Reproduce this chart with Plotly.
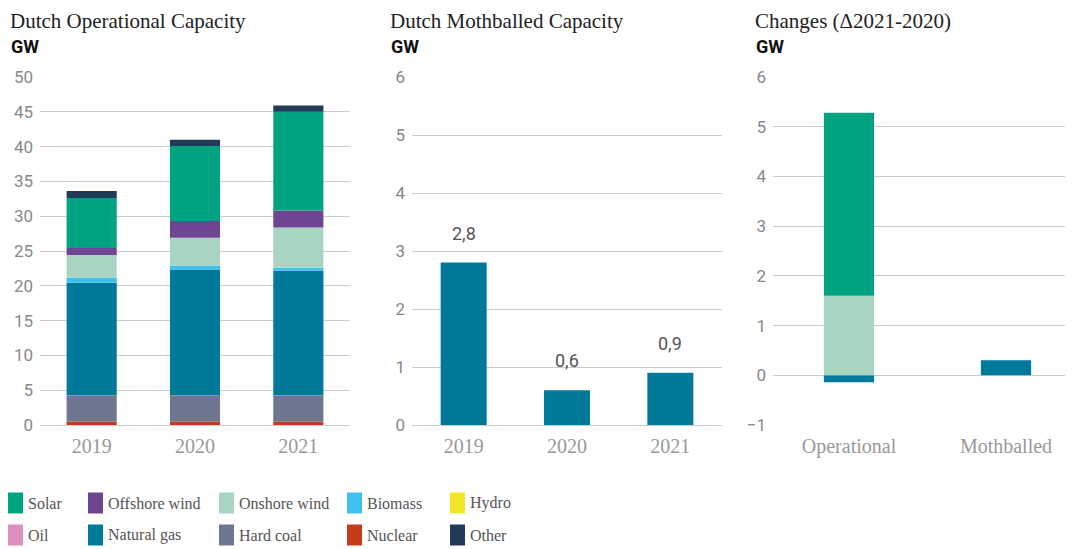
import plotly.graph_objects as go

# figure placed at the page's 8px body margin, reaching the window's right/bottom edges
W, H = 1065, 541
OX, OY = 8, 8

# ---------------- data ----------------
years = ["2019", "2020", "2021"]
nuclear = [0.49, 0.49, 0.49]
hard_coal = [3.7, 3.7, 3.7]
hydro = [0.04, 0.04, 0.04]
oil = [0.0, 0.0, 0.0]
natural_gas = [16.2, 18.1, 17.95]
biomass = [0.72, 0.57, 0.43]
onshore_wind = [3.27, 4.0, 5.75]
offshore_wind = [1.0, 2.4, 2.45]
solar = [7.2, 10.8, 14.2]
other = [1.0, 0.9, 0.9]

mothballed = [2.8, 0.6, 0.9]
mothballed_labels = ["2,8", "0,6", "0,9"]

change_categories = ["Operational", "Mothballed"]
change_natural_gas = [-0.14, 0.30]
change_onshore_wind = [1.6, 0.0]
change_solar = [3.68, 0.0]

legend_rows = [
    ["Solar", "Offshore wind", "Onshore wind", "Biomass", "Hydro"],
    ["Oil", "Natural gas", "Hard coal", "Nuclear", "Other"],
]

colors = {
    "Solar": "#00A380",
    "Offshore wind": "#6E4593",
    "Onshore wind": "#A8D5C2",
    "Biomass": "#3EC1EF",
    "Hydro": "#F4E526",
    "Oil": "#DD8FBF",
    "Natural gas": "#00799B",
    "Hard coal": "#6E778F",
    "Nuclear": "#C53A1A",
    "Other": "#223B5A",
}

# ---------------- helpers (window pixel -> paper fraction) ----------------
def px(x):
    return (x - OX) / W

def py(y):
    return 1 - (y - OY) / H

SERIF = "Liberation Serif"
SANS = "Roboto"

fig = go.Figure()

# Left: operational capacity stacked
stack = [
    ("Nuclear", nuclear), ("Hard coal", hard_coal), ("Hydro", hydro), ("Oil", oil),
    ("Natural gas", natural_gas), ("Biomass", biomass), ("Onshore wind", onshore_wind),
    ("Offshore wind", offshore_wind), ("Solar", solar), ("Other", other),
]
for name, vals in stack:
    fig.add_trace(go.Bar(x=years, y=vals, name=name, marker_color=colors[name],
                         marker_line_width=0, width=0.485, showlegend=False,
                         xaxis="x", yaxis="y", hoverinfo="x+y+name"))

# Middle: mothballed
fig.add_trace(go.Bar(x=years, y=mothballed, name="Natural gas", marker_color=colors["Natural gas"],
                     marker_line_width=0, width=0.445, showlegend=False,
                     xaxis="x2", yaxis="y2"))

# Right: changes
for name, vals in [("Natural gas", change_natural_gas), ("Onshore wind", change_onshore_wind),
                   ("Solar", change_solar)]:
    fig.add_trace(go.Bar(x=change_categories, y=vals, name=name, marker_color=colors[name],
                         marker_line_width=0, width=0.32, showlegend=False,
                         xaxis="x3", yaxis="y3"))

annotations = []
# value labels above the mothballed bars (x given as category index)
for i, (v, lab) in enumerate(zip(mothballed, mothballed_labels)):
    annotations.append(dict(x=i, y=v, xref="x2", yref="y2", text=lab, showarrow=False,
                            yanchor="bottom", yshift=17,
                            font=dict(family=SANS, size=18, color="#555555")))

# Titles
for x0, title in [(10, "Dutch Operational Capacity"), (390, "Dutch Mothballed Capacity"),
                  (755, "Changes (Δ2021-2020)")]:
    annotations.append(dict(x=px(x0 - 1), y=1.0, xref="paper", yref="paper", text=title,
                            showarrow=False, xanchor="left", yanchor="top", borderpad=0,
                            font=dict(family=SERIF, size=21, color="#222222")))
    annotations.append(dict(x=px(x0 - 1), y=py(46), xref="paper", yref="paper", text="<b>GW</b>",
                            showarrow=False, xanchor="left", yanchor="middle",
                            font=dict(family=SANS, size=18, color="#111111")))

# Legend (manual)
shapes = []
col_x = [8, 88, 219, 347, 450]
row_y = [503, 535]
for r, row in enumerate(legend_rows):
    for c, name in enumerate(row):
        x0 = col_x[c]
        yc = row_y[r]
        shapes.append(dict(type="rect", xref="paper", yref="paper",
                           x0=px(x0), x1=px(x0 + 15), y0=py(yc + 10.5), y1=py(yc - 10.5),
                           fillcolor=colors[name], line=dict(width=0)))
        annotations.append(dict(x=px(x0 + 18), y=py(yc), xref="paper", yref="paper", text=name,
                                showarrow=False, xanchor="left", yanchor="middle",
                                font=dict(family=SERIF, size=16, color="#555555")))

ydom = [py(425), py(77)]
xtick_font = dict(family=SERIF, size=20, color="#999999")
ytick_font = dict(family=SANS, size=17, color="#888888")
grid = "#CCCCCC"

common_x = dict(type="category", showgrid=False, showline=False, ticks="", zeroline=False,
                tickfont=xtick_font, ticklabelstandoff=7, fixedrange=True, automargin=False)
common_y = dict(showgrid=True, gridcolor=grid, gridwidth=1, showline=False, ticks="",
                zeroline=True, zerolinecolor=grid, zerolinewidth=1, automargin=False,
                tickfont=ytick_font, ticklabelstandoff=6, fixedrange=True)

fig.update_layout(
    width=W, height=H, autosize=False,
    margin=dict(l=0, r=0, t=0, b=0, pad=0, autoexpand=False),
    paper_bgcolor="white", plot_bgcolor="white",
    barmode="relative",
    separators=",.",
    showlegend=False,
    xaxis=dict(domain=[px(40), px(350)], range=[-0.5, 2.5], anchor="y", **common_x),
    yaxis=dict(domain=ydom, range=[0, 50], dtick=5, anchor="x", **common_y),
    xaxis2=dict(domain=[px(412), px(722)], range=[-0.5, 2.5], anchor="y2", **common_x),
    yaxis2=dict(domain=ydom, range=[0, 6], dtick=1, anchor="x2", **common_y),
    xaxis3=dict(domain=[px(773), px(1071)], range=[-0.484, 1.414], anchor="y3", **common_x),
    yaxis3=dict(domain=ydom, range=[-1, 6], dtick=1, anchor="x3", **common_y),
    annotations=annotations,
    shapes=shapes,
)

fig.write_html("out.html")
